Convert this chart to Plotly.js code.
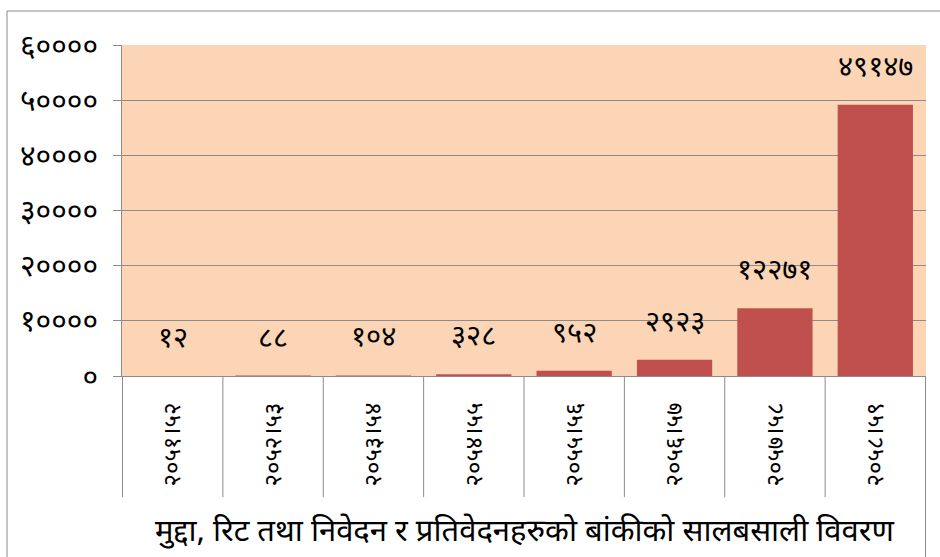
<!DOCTYPE html>
<html>
<head>
<meta charset="utf-8">
<script src="https://cdn.plot.ly/plotly-3.0.1.min.js"></script>
<style>html,body{margin:0;padding:0;background:#fff;}#chart{width:940px;height:557px;}</style>
</head>
<body>
<div id="chart"></div>
<script>
// Data
var categories = ["२०५१।५२", "२०५२।५३", "२०५३।५४", "२०५४।५५", "२०५५।५६", "२०५६।५७", "२०५७।५८", "२०५८।५९"];
var pendingCases = [12, 88, 104, 328, 952, 2923, 12271, 49147];
var yTickVals = [0, 10000, 20000, 30000, 40000, 50000, 60000];
var chartTitle = "मुद्दा, रिट तथा निवेदन र प्रतिवेदनहरुको बांकीको सालबसाली विवरण";

var devDigits = "०१२३४५६७८९";
function toDev(n) {
  return String(n).replace(/[0-9]/g, function (d) { return devDigits[+d]; });
}

var FONT = "'Noto Sans Devanagari', 'Noto Serif Devanagari', 'Lohit Devanagari', 'FreeSans', 'Noto Sans', sans-serif";
var gray = "#8c8c8c";

var trace = {
  type: "bar",
  x: categories,
  y: pendingCases,
  marker: { color: "#C0504D", line: { width: 0 } },
  hoverinfo: "x+y"
};

var annotations = categories.map(function (c, i) {
  return {
    x: c, y: pendingCases[i], xref: "x", yref: "y",
    text: toDev(pendingCases[i]), showarrow: false,
    yanchor: "middle", yshift: 36,
    font: { family: FONT, size: 29, color: "#000" }
  };
});
annotations.push({
  xref: "paper", yref: "paper", x: 0.5, y: -0.475, xanchor: "center", yanchor: "middle",
  text: chartTitle, showarrow: false,
  font: { family: FONT, size: 31, color: "#000" }
});

var shapes = [];
for (var i = 0; i <= categories.length; i++) {
  var last = (i === categories.length);
  shapes.push({
    type: "line", xref: "x", yref: "paper",
    x0: i - 0.5, x1: i - 0.5, y0: 0, y1: last ? -0.55 : -0.366,
    line: { color: gray, width: 1 }
  });
}
// outer chart frame
shapes.push({
  type: "rect", xref: "paper", yref: "paper",
  x0: -0.1430, x1: 1.05, y0: -0.7, y1: 1.1027,
  line: { color: gray, width: 1 }, fillcolor: "rgba(0,0,0,0)", layer: "below"
});

var layout = {
  width: 940, height: 557,
  margin: { l: 122, r: 14, t: 45, b: 181, pad: 0 },
  paper_bgcolor: "#ffffff",
  plot_bgcolor: "#FBD5B5",
  showlegend: false,
  bargap: 0.25,
  xaxis: {
    type: "category",
    tickangle: -90,
    showgrid: false,
    showline: true, linecolor: gray, linewidth: 1,
    ticks: "",
    ticklabelstandoff: 16,
    tickfont: { family: FONT, size: 24, color: "#000" },
    zeroline: false
  },
  yaxis: {
    range: [0, 60000],
    tickvals: yTickVals,
    ticktext: yTickVals.map(toDev),
    showgrid: true, gridcolor: gray, gridwidth: 1,
    showline: true, linecolor: gray, linewidth: 1,
    zeroline: true, zerolinecolor: gray,
    ticks: "outside", ticklen: 8, tickcolor: gray,
    ticklabelstandoff: 9,
    tickfont: { family: FONT, size: 30, color: "#000" }
  },
  annotations: annotations,
  shapes: shapes
};

Plotly.newPlot("chart", [trace], layout, { displayModeBar: false, staticPlot: true });
</script>
</body>
</html>
